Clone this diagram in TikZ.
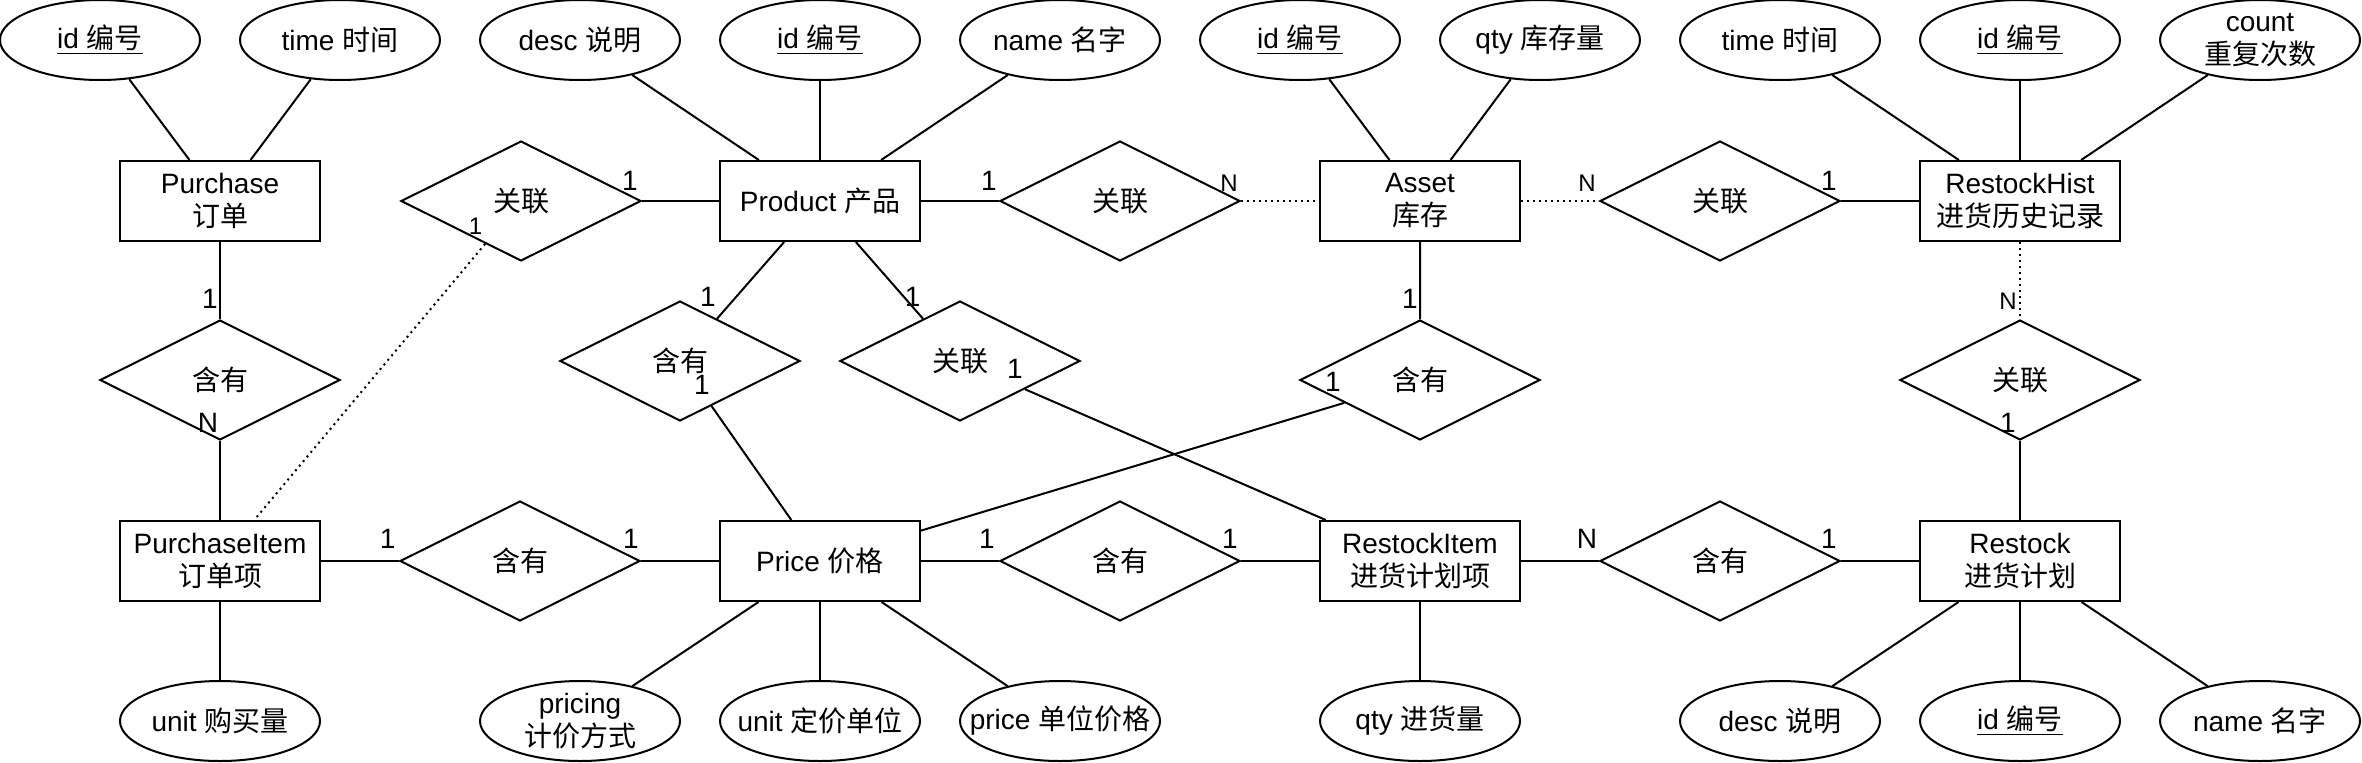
\documentclass[tikz,border=0pt]{standalone}
\usepackage{fontspec}
\setmainfont{Liberation Sans}
\newfontfamily\zhfont{Noto Sans CJK SC}
\newcommand\zh[1]{{\zhfont #1}}
\usetikzlibrary{shapes.geometric}

\begin{document}
\begin{tikzpicture}[x=1pt, y=-1pt, line width=1pt,
  font=\fontsize{14}{16.5}\selectfont,
  entity/.style={draw, rectangle, minimum width=100pt, minimum height=40pt, inner sep=2pt, align=center},
  attr/.style={draw, ellipse, minimum width=100pt, minimum height=40pt, inner xsep=-12pt, inner ysep=-4pt, align=center},
  rel/.style={draw, diamond, aspect=2, minimum width=120pt, minimum height=60pt, inner sep=0pt},
  card/.style={inner sep=0pt},
  small/.style={card, font=\fontsize{12}{14}\selectfont},
  weak/.style={dash pattern=on 1pt off 2pt}]
  \useasboundingbox (0,0) rectangle (1181,381);

  \node[entity] (pur) at (110,100.5) {Purchase\\\zh{订单}};
  \node[entity] (prod) at (410,100.5) {Product \zh{产品}};
  \node[entity] (asset) at (710,100.5) {Asset\\\zh{库存}};
  \node[entity] (hist) at (1010,100.5) {RestockHist\\\zh{进货历史记录}};
  \node[entity] (pitem) at (110,280.5) {PurchaseItem\\\zh{订单项}};
  \node[entity] (price) at (410,280.5) {Price \zh{价格}};
  \node[entity] (ritem) at (710,280.5) {RestockItem\\\zh{进货计划项}};
  \node[entity] (rest) at (1010,280.5) {Restock\\\zh{进货计划}};

  \node[attr] (a1) at (50,20) {\underline{id \zh{编号}}};
  \node[attr] (a2) at (170,20) {time \zh{时间}};
  \node[attr] (a3) at (290,20) {desc \zh{说明}};
  \node[attr] (a4) at (410,20) {\underline{id \zh{编号}}};
  \node[attr] (a5) at (530,20) {name \zh{名字}};
  \node[attr] (a6) at (650,20) {\underline{id \zh{编号}}};
  \node[attr] (a7) at (770,20) {qty \zh{库存量}};
  \node[attr] (a8) at (890,20) {time \zh{时间}};
  \node[attr] (a9) at (1010,20) {\underline{id \zh{编号}}};
  \node[attr] (a10) at (1130,20) {count\\\zh{重复次数}};
  \node[attr] (b1) at (110,360.5) {unit \zh{购买量}};
  \node[attr] (b2) at (290,360.5) {pricing\\\zh{计价方式}};
  \node[attr] (b3) at (410,360.5) {unit \zh{定价单位}};
  \node[attr] (b4) at (530,360.5) {price \zh{单位价格}};
  \node[attr] (b5) at (710,360.5) {qty \zh{进货量}};
  \node[attr] (b6) at (890,360.5) {desc \zh{说明}};
  \node[attr] (b7) at (1010,360.5) {\underline{id \zh{编号}}};
  \node[attr] (b8) at (1130,360.5) {name \zh{名字}};

  \node[rel] (r1) at (260.5,100.5) {\zh{关联}};
  \node[rel] (r2) at (560,100.5) {\zh{关联}};
  \node[rel] (r3) at (860,100.5) {\zh{关联}};
  \node[rel] (r4) at (1010,190) {\zh{关联}};
  \node[rel] (r5) at (480,180.5) {\zh{关联}};
  \node[rel] (h1) at (110,190) {\zh{含有}};
  \node[rel] (h2) at (340,180.5) {\zh{含有}};
  \node[rel] (h3) at (710,190) {\zh{含有}};
  \node[rel] (h4) at (260,280.5) {\zh{含有}};
  \node[rel] (h5) at (560,280.5) {\zh{含有}};
  \node[rel] (h6) at (860,280.5) {\zh{含有}};

  \foreach \a/\e in {a1/pur, a2/pur, a3/prod, a4/prod, a5/prod, a6/asset, a7/asset,
    a8/hist, a9/hist, a10/hist, b1/pitem, b2/price, b3/price, b4/price, b5/ritem,
    b6/rest, b7/rest, b8/rest}
    \draw (\a) -- (\e);

  \draw (pur) -- (h1) -- (pitem);
  \draw (r1) -- (prod) -- (r2);
  \draw[weak] (r1) -- (pitem);
  \draw[weak] (r2) -- (asset) -- (r3);
  \draw (r3) -- (hist);
  \draw[weak] (hist) -- (r4);
  \draw (r4) -- (rest);
  \draw (asset) -- (h3) -- (price);
  \draw (prod) -- (h2) -- (price);
  \draw (prod) -- (r5) -- (ritem);
  \draw (pitem) -- (h4) -- (price) -- (h5) -- (ritem) -- (h6) -- (rest);

  \node[card] (c1) at ([shift={(-5,-10)}]h1.north) {1};
  \node[card] (c2) at ([shift={(-6,-9)}]h1.south) {N};
  \node[card] (c3) at ([shift={(-6,-10)}]r1.east) {1};
  \node[small] (c4) at ([shift={(7.5,-2.5)}]r1.south west) {1};
  \node[card] (c5) at ([shift={(-5,-10)}]r2.west) {1};
  \node[small] (c6) at ([shift={(-6,-9)}]r2.east) {N};
  \node[small] (c7) at ([shift={(-6,-9)}]r3.west) {N};
  \node[card] (c8) at ([shift={(-6,-10)}]r3.east) {1};
  \node[small] (c9) at ([shift={(-6,-9)}]r4.north) {N};
  \node[card] (c10) at ([shift={(-6,-9)}]r4.south) {1};
  \node[card] (c11) at ([shift={(-5,-10)}]h3.north) {1};
  \node[card] (c12) at ([shift={(17,1)}]h3.west) {1};
  \node[card] (c13) at ([shift={(14,-1.5)}]h2.north) {1};
  \node[card] (c14) at ([shift={(11,-18.5)}]h2.south) {1};
  \node[card] (c15) at ([shift={(-23.7,-1.5)}]r5.north) {1};
  \node[card] (c16) at ([shift={(-33,4)}]r5.east) {1};
  \node[card] (c17) at ([shift={(-5.7,-11)}]h4.west) {1};
  \node[card] (c18) at ([shift={(-5,-11)}]h4.east) {1};
  \node[card] (c19) at ([shift={(-6,-11)}]h5.west) {1};
  \node[card] (c20) at ([shift={(-5.6,-11)}]h5.east) {1};
  \node[card] (c21) at ([shift={(-6,-11)}]h6.west) {N};
  \node[card] (c22) at ([shift={(-6,-11)}]h6.east) {1};
\end{tikzpicture}
\end{document}
